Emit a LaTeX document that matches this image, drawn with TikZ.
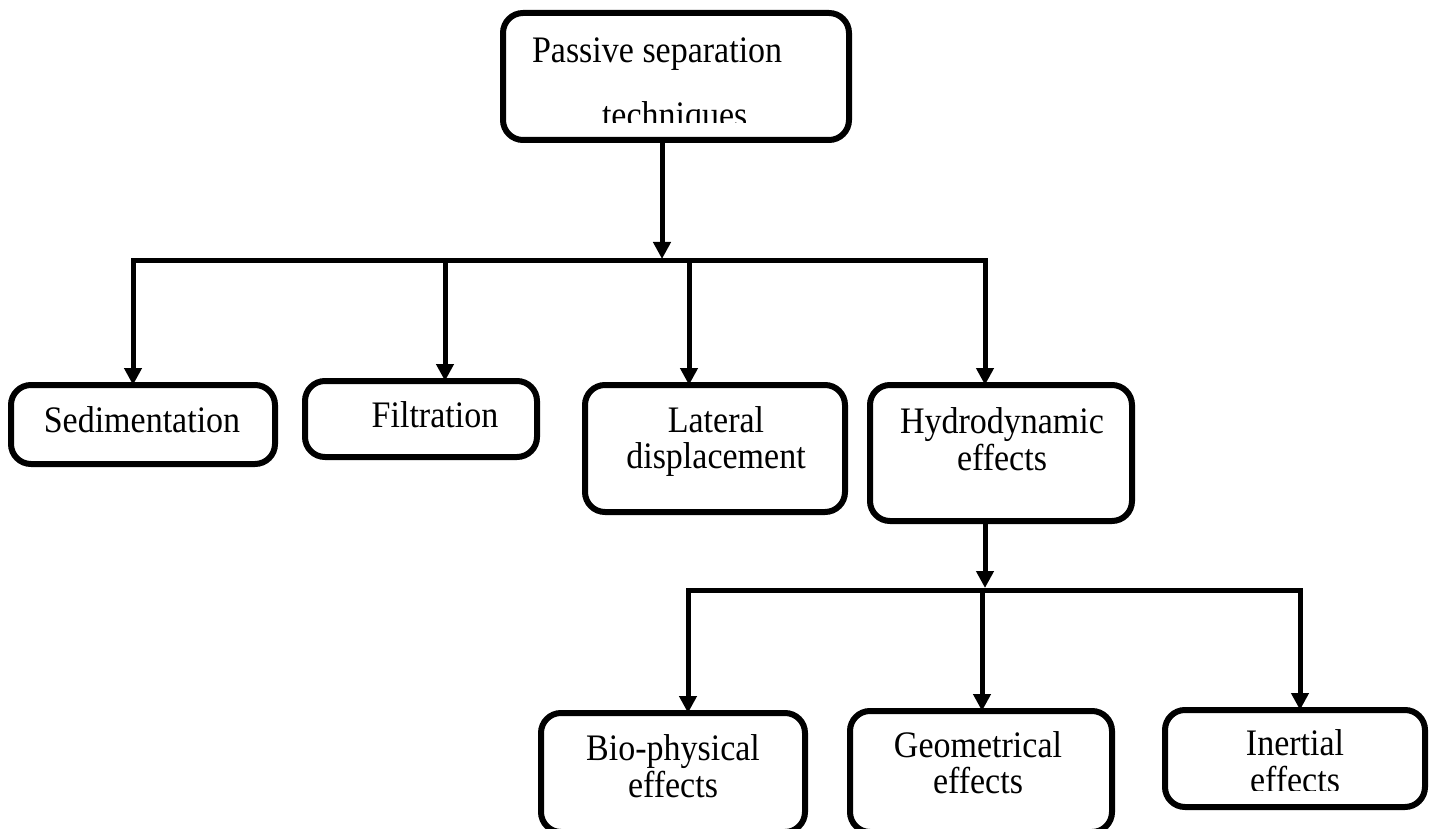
\documentclass[tikz,border=0pt]{standalone}
\usepackage{fontspec}
\usepackage{graphicx}
\setmainfont{Liberation Serif}
\usetikzlibrary{arrows.meta}
\newcommand\vtxt[1]{\scalebox{1}[1.1]{#1}}
\begin{document}
\begin{tikzpicture}[x=1pt,y=-1pt,
  box/.style={draw=black, line width=6pt, rounded corners=20pt, fill=white, inner sep=0pt, outer sep=0pt},
  lbl/.style={inner sep=0pt, outer sep=0pt, anchor=base, font=\fontsize{34}{40}\selectfont},
  conn/.style={line width=5pt, line cap=rect},
  arr/.style={line width=5pt, -{Triangle[width=17pt,length=17pt]}}]
\useasboundingbox[fill=white] (0,0) rectangle (1433,829);
% boxes
\node[box, minimum width=346pt, minimum height=127pt] (top) at (676,76.5) {};
\node[box, minimum width=264pt, minimum height=79pt] (sed) at (143,424.5) {};
\node[box, minimum width=232pt, minimum height=76pt] (fil) at (421,419) {};
\node[box, minimum width=260pt, minimum height=127pt] (lat) at (715,448.5) {};
\node[box, minimum width=262pt, minimum height=136pt] (hyd) at (1001,453) {};
\node[box, minimum width=264pt, minimum height=119pt] (bio) at (673,772.5) {};
\node[box, minimum width=262pt, minimum height=121pt] (geo) at (981,771.5) {};
\node[box, minimum width=260pt, minimum height=97pt] (ine) at (1295,758.5) {};
% labels
\node[lbl, anchor=base west] (t1) at (532,63) {\vtxt{Passive separation}};
\begin{scope}
  \clip (0,0) rectangle (1433,123);
  \node[lbl, anchor=base west] (t2) at (602,128) {\vtxt{techniques}};
\end{scope}
\node[lbl] (sedt) at (142,432) {\vtxt{Sedimentation}};
\node[lbl] (filt) at (435,427) {\vtxt{Filtration}};
\node[lbl] (latt1) at (716,432) {\vtxt{Lateral}};
\node[lbl] (latt2) at (716,468) {\vtxt{displacement}};
\node[lbl] (hydt1) at (1002,433) {\vtxt{Hydrodynamic}};
\node[lbl] (hydt2) at (1002,470) {\vtxt{effects}};
\node[lbl] (biot1) at (673,760) {\vtxt{Bio-physical}};
\node[lbl] (biot2) at (673,797) {\vtxt{effects}};
\node[lbl] (geot1) at (978,757) {\vtxt{Geometrical}};
\node[lbl] (geot2) at (978,793) {\vtxt{effects}};
\node[lbl] (inet1) at (1295,755) {\vtxt{Inertial}};
\begin{scope}
  \clip (0,0) rectangle (1433,790);
  \node[lbl] (inet2) at (1295,792) {\vtxt{effects}};
\end{scope}
% upper bus
\coordinate (b0) at (662,259);
\coordinate (bL) at (133,261);
\coordinate (bF) at (445,261);
\coordinate (bLa) at (689,261);
\coordinate (bR) at (985,261);
\draw[arr] (top.south -| b0) -- (b0);
\draw[conn] (bL) -- (bR);
\draw[arr] (bL) -- (bL |- sed.north);
\draw[arr] (bF) -- (bF |- fil.north);
\draw[arr] (bLa) -- (bLa |- lat.north);
\draw[arr] (bR) -- (bR |- hyd.north);
% lower bus
\coordinate (c0) at (985,588);
\coordinate (cL) at (688,590);
\coordinate (cM) at (982,590);
\coordinate (cR) at (1300,590);
\draw[arr] (hyd.south -| c0) -- (c0);
\draw[conn] (cL) -- (cR);
\draw[arr] (cL) -- (cL |- bio.north);
\draw[arr] (cM) -- (cM |- geo.north);
\draw[arr] (cR) -- (cR |- ine.north);
\end{tikzpicture}
\end{document}
